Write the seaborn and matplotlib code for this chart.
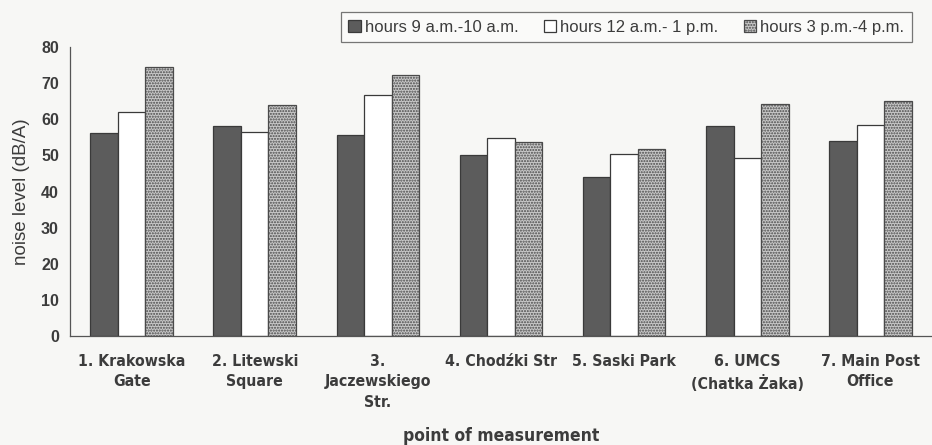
import pandas as pd
import matplotlib
matplotlib.use("Agg")
import matplotlib.pyplot as plt
import seaborn as sns
from matplotlib.ticker import MultipleLocator, FixedLocator

points = ["1. Krakowska\nGate", "2. Litewski\nSquare", "3.\nJaczewskiego\nStr.",
          "4. Chodźki Str", "5. Saski Park", "6. UMCS\n(Chatka Żaka)",
          "7. Main Post\nOffice"]
periods = ["hours 9 a.m.-10 a.m.", "hours 12 a.m.- 1 p.m.", "hours 3 p.m.-4 p.m."]

morning = [56.3, 58.0, 55.6, 50.1, 44.0, 58.2, 54.1]
midday = [62.1, 56.4, 66.8, 54.8, 50.3, 49.2, 58.4]
afternoon = [74.6, 64.0, 72.3, 53.8, 51.8, 64.3, 65.1]

rows = []
for i, p in enumerate(points):
    for per, vals in zip(periods, [morning, midday, afternoon]):
        rows.append({"point": p, "period": per, "level": vals[i]})
df = pd.DataFrame(rows)

sns.set_style("white")
plt.rcParams["font.family"] = ["Liberation Sans", "DejaVu Sans"]
plt.rcParams["hatch.linewidth"] = 1.0

bg = "#f7f7f5"
txt = "#3c3c3c"

fig = plt.figure(figsize=(9.32, 4.45), dpi=100, facecolor=bg)
ax = fig.add_axes([70 / 932, 109 / 445, 862 / 932, 289 / 445])
ax.set_facecolor(bg)

sns.barplot(data=df, x="point", y="level", hue="period", hue_order=periods,
            order=points, width=0.67, gap=0, legend=False, ax=ax,
            palette=["#5c5c5c", "#ffffff", "#c4c4c4"], saturation=1)

# fill / edge / hatch per series
styles = [("#5c5c5c", "#3a3a3a", ""), ("#ffffff", "#3a3a3a", ""),
          ("#c8c8c8", "#4a4a4a", "......")]
for cont, (fc, ec, hatch) in zip(ax.containers, styles):
    for bar in cont:
        bar.set_facecolor(fc)
        bar.set_edgecolor(ec)
        bar.set_linewidth(0.9)
        bar.set_hatch(hatch)

ax.set_xlim(-0.5, 6.5)
ax.set_ylim(0, 80)
ax.yaxis.set_major_locator(MultipleLocator(10))
sns.despine(ax=ax)
for s in ["left", "bottom"]:
    ax.spines[s].set_color("#555555")
    ax.spines[s].set_linewidth(0.9)

ax.tick_params(axis="y", length=4, width=0.8, color="#555555", labelsize=11.5,
               labelcolor=txt, pad=4)
for lbl in ax.get_yticklabels():
    lbl.set_fontweight("bold")
ax.tick_params(axis="x", which="major", length=0, pad=13)
ax.xaxis.set_minor_locator(FixedLocator([i + 0.5 for i in range(7)]))
ax.tick_params(axis="x", which="minor", length=4, width=0.8, color="#555555")
ax.set_xticks(range(7))
ax.set_xticklabels(points, family="DejaVu Sans", fontstretch="condensed",
                   fontsize=11.3, fontweight="bold", color=txt, linespacing=1.45,
                   va="top")

ax.set_ylabel("noise level (dB/A)", fontsize=13.5, color=txt, labelpad=8)
ax.set_xlabel("point of measurement", fontsize=12.5, color=txt,
              family="DejaVu Sans", fontstretch="condensed", fontweight="bold")
ax.xaxis.set_label_coords(0.5, -100 / 289)
ax.xaxis.label.set_va("center")

leg = fig.legend(handles=ax.containers, labels=periods, ncol=3,
                 loc="upper right", bbox_to_anchor=(920 / 932, 1 - 4 / 445),
                 frameon=True, fancybox=False, fontsize=12,
                 handlelength=0.75, handleheight=0.75, handletextpad=0.25,
                 columnspacing=1.5, borderpad=0.45, labelcolor=txt)
leg.get_frame().set_edgecolor("#555555")
leg.get_frame().set_linewidth(0.9)
leg.get_frame().set_facecolor("#fbfbfb")

fig.savefig("out.png", dpi=100, facecolor=bg)
